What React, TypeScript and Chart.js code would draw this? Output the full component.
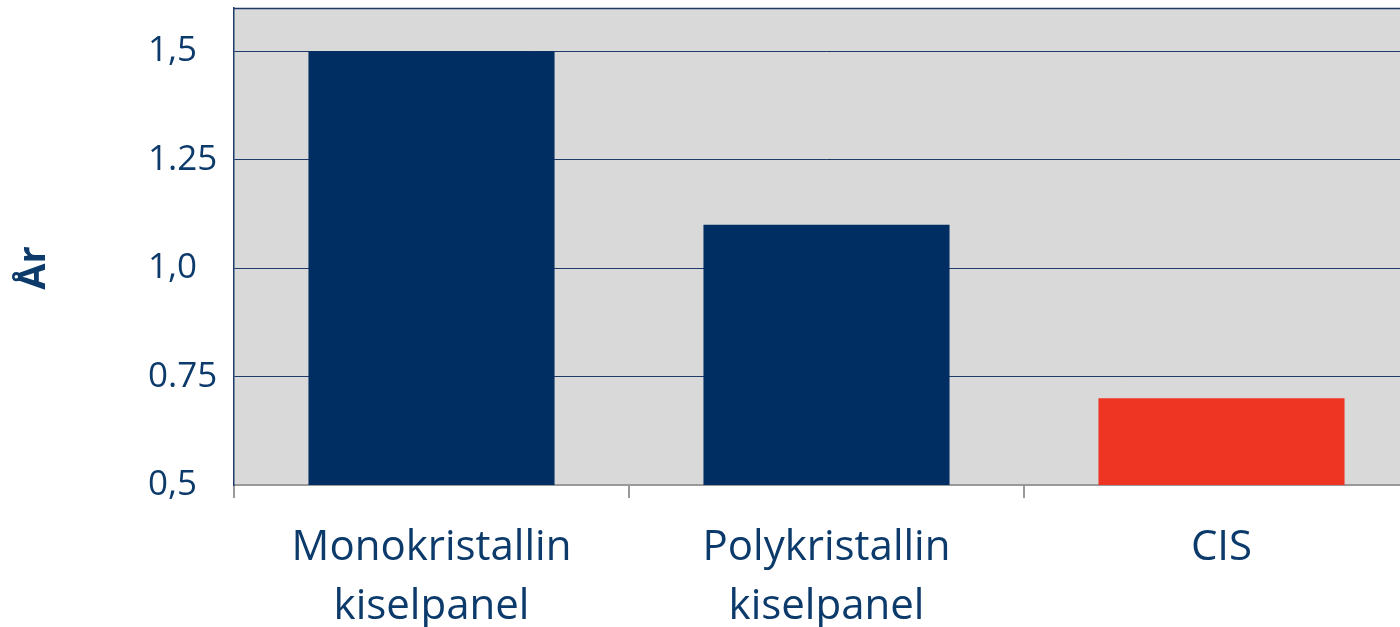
import React, { useEffect, useRef } from "react";
import { Chart, registerables } from "chart.js";

Chart.register(...registerables);

// Panel types and their values (years)
const categories: string[][] = [
  ["Monokristallin", "kiselpanel"],
  ["Polykristallin", "kiselpanel"],
  ["CIS"],
];
const values: number[] = [1.5, 1.1, 0.7];
const barColors: string[] = ["#002D62", "#002D62", "#EE3524"];

// Y axis ticks and their printed labels
const yTickValues: number[] = [0.5, 0.75, 1.0, 1.25, 1.5];
const yTickLabels: string[] = ["0,5", "0.75", "1,0", "1.25", "1,5"];
const yTitle = "År";

const NAVY = "#0B3A6B";
const FONT = "'Open Sans', sans-serif";

const plotDecor = {
  id: "plotDecor",
  beforeDraw(chart: any) {
    const { ctx, chartArea } = chart;
    ctx.save();
    ctx.fillStyle = "#D9D9D9";
    ctx.fillRect(chartArea.left, chartArea.top, chartArea.right - chartArea.left, chartArea.bottom - chartArea.top);
    ctx.restore();
  },
  afterDraw(chart: any) {
    const { ctx, chartArea } = chart;
    ctx.save();
    // top frame line
    ctx.strokeStyle = "#1F3A68";
    ctx.lineWidth = 1.5;
    ctx.beginPath();
    ctx.moveTo(chartArea.left, chartArea.top + 0.5);
    ctx.lineTo(chartArea.right, chartArea.top + 0.5);
    ctx.stroke();
    // rotated axis title
    ctx.fillStyle = NAVY;
    ctx.font = `bold 38px ${FONT}`;
    ctx.textAlign = "center";
    ctx.textBaseline = "middle";
    ctx.translate(34, 268);
    ctx.rotate(-Math.PI / 2);
    ctx.fillText(yTitle, 0, 0);
    ctx.restore();
  },
};

export default function App() {
  const ref = useRef<HTMLCanvasElement>(null);

  useEffect(() => {
    document.body.style.margin = "0";
    const chart = new Chart(ref.current!, {
      type: "bar",
      data: {
        labels: categories as any,
        datasets: [
          {
            data: values,
            backgroundColor: barColors,
            borderWidth: 0,
            barPercentage: 0.623,
            categoryPercentage: 1,
          },
        ],
      },
      options: {
        animation: false,
        responsive: false,
        maintainAspectRatio: false,
        layout: { padding: { top: 8, right: 1, left: 148, bottom: 0 } },
        plugins: { legend: { display: false }, tooltip: { enabled: false } },
        scales: {
          x: {
            offset: true,
            afterFit: (s: any) => {
              s.height = 142;
              s.paddingLeft = 0;
              s.paddingRight = 0;
            },
            grid: {
              offset: true,
              drawOnChartArea: false,
              drawTicks: true,
              tickLength: 13,
              color: "#999999",
              lineWidth: 2,
            },
            border: { color: "#999999", width: 2 },
            ticks: {
              color: NAVY,
              font: { family: FONT, size: 42, lineHeight: 1.4 },
              padding: 21,
              maxRotation: 0,
              autoSkip: false,
            },
          },
          y: {
            min: 0.5,
            max: 1.6,
            afterFit: (s: any) => {
              s.width = 86;
              s.paddingTop = 0;
              s.paddingBottom = 0;
            },
            afterBuildTicks: (s: any) => {
              s.ticks = yTickValues.map((v) => ({ value: v }));
            },
            grid: {
              color: "#1F3A68",
              lineWidth: 1,
              drawTicks: false,
            },
            border: { color: "#1F3A68", width: 1.5 },
            ticks: {
              color: NAVY,
              crossAlign: "far",
              font: { family: FONT, size: 35 },
              padding: 9,
              callback: (v: any) => {
                const i = yTickValues.findIndex((t) => Math.abs(t - Number(v)) < 1e-6);
                return i >= 0 ? yTickLabels[i] : "";
              },
            },
          },
        },
      },
      plugins: [plotDecor],
    });
    return () => chart.destroy();
  }, []);

  return (
    <div style={{ width: 1400, height: 627, overflow: "hidden", position: "relative" }}>
      <canvas ref={ref} width={1420} height={627} style={{ display: "block", width: 1420, height: 627 }} />
    </div>
  );
}
